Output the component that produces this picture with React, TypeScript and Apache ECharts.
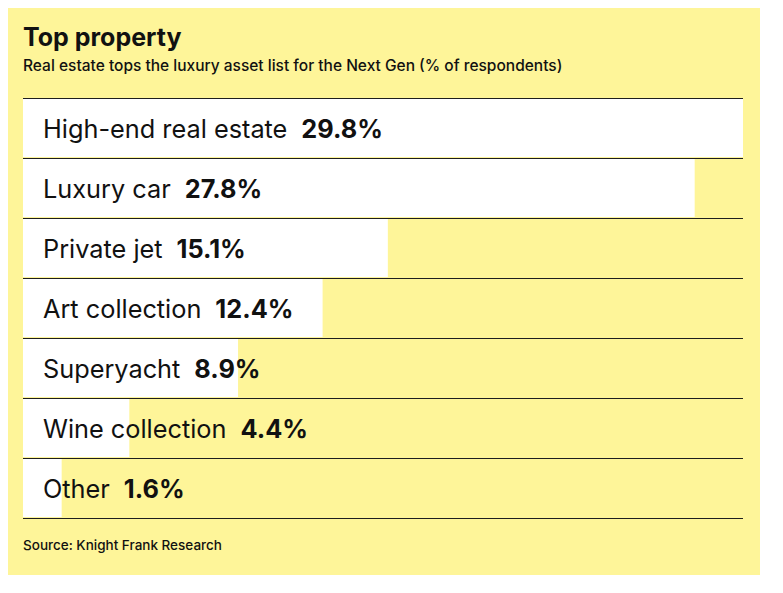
import React, { useEffect, useRef } from "react";
import * as echarts from "echarts";

const categories = [
  "High-end real estate",
  "Luxury car",
  "Private jet",
  "Art collection",
  "Superyacht",
  "Wine collection",
  "Other",
];
const values = [29.8, 27.8, 15.1, 12.4, 8.9, 4.4, 1.6];

const title = "Top property";
const subtitle = "Real estate tops the luxury asset list for the Next Gen (% of respondents)";
const source = "Source: Knight Frank Research";

export default function App() {
  const ref = useRef<HTMLDivElement>(null);
  useEffect(() => {
    if (!ref.current) return;
    const chart = echarts.init(ref.current, undefined, { renderer: "svg" });
    const font = "Inter, 'Noto Sans', sans-serif";
    chart.setOption({
      animation: false,
      backgroundColor: "transparent",
      textStyle: { fontFamily: font },
      graphic: [
        {
          type: "rect",
          z: -10,
          shape: { x: -1, y: -1, width: 753, height: 568 },
          style: { fill: "#FEF599" },
          silent: true,
        },
        {
          type: "text",
          left: 15,
          top: 16,
          style: { text: title, font: `bold 25px ${font}`, fill: "#111" },
        },
        {
          type: "text",
          left: 15,
          top: 49,
          style: { text: subtitle, font: `500 15.5px ${font}`, fill: "#111" },
        },
        {
          type: "text",
          left: 15,
          top: 530,
          style: { text: source, font: `500 13.5px ${font}`, fill: "#111" },
        },
      ],
      grid: { left: 15, top: 90, width: 720, height: 420, containLabel: false },
      xAxis: {
        type: "value",
        min: 0,
        max: 29.8,
        show: false,
      },
      yAxis: {
        type: "category",
        data: categories,
        inverse: true,
        axisLabel: { show: false },
        axisTick: { show: false },
        axisLine: { show: false },
        splitLine: { show: true, lineStyle: { color: "#1e1e1e", width: 1 } },
      },
      series: [
        {
          type: "bar",
          data: values,
          barWidth: 58,
          itemStyle: { color: "#ffffff" },
          z: 1,
          label: {
            show: true,
            position: "insideLeft",
            distance: 20,
            formatter: (p: any) => `{n|${p.name}}{v|${p.value}%}`,
            rich: {
              n: { fontSize: 25.3, fontFamily: font, color: "#111", fontWeight: "normal" },
              v: {
                fontSize: 25.3,
                fontFamily: font,
                color: "#111",
                fontWeight: "bold",
                padding: [0, 0, 0, 14],
              },
            },
          },
        },
      ],
    });
    return () => chart.dispose();
  }, []);
  return <div ref={ref} style={{ width: 767, height: 577 }} />;
}
